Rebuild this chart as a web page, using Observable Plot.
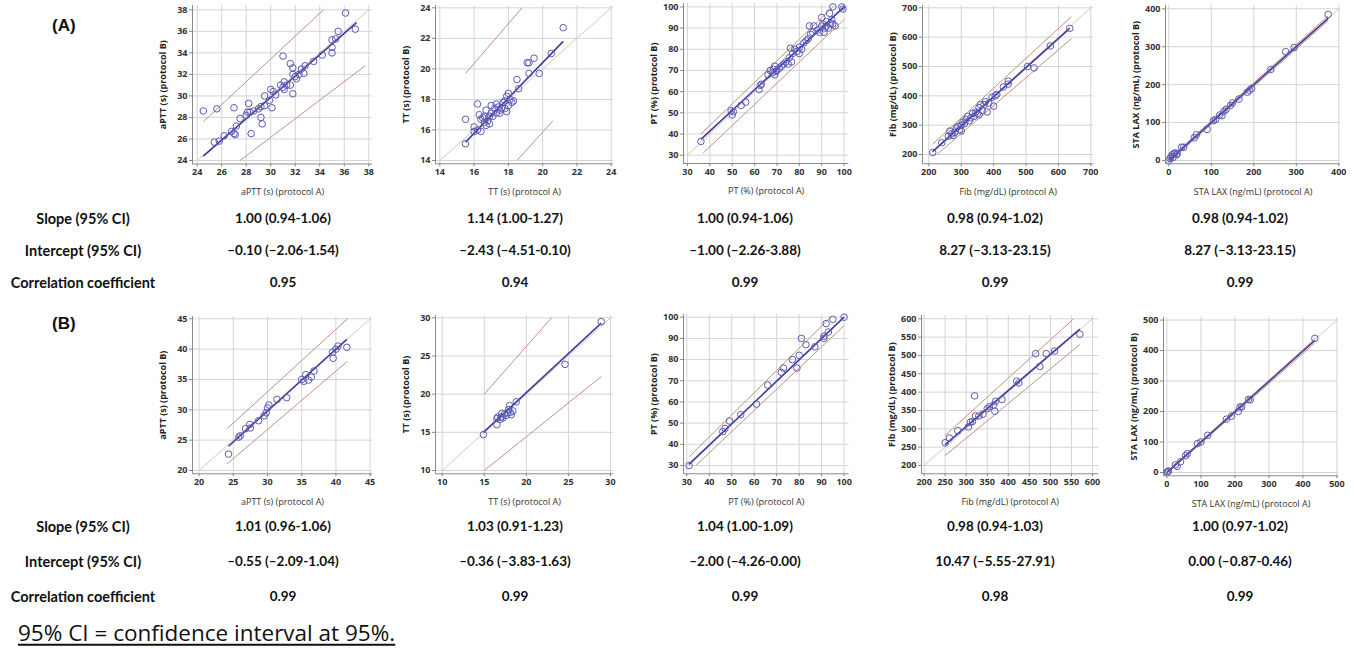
<!DOCTYPE html>
<html><head><meta charset="utf-8">
<script src="https://cdn.jsdelivr.net/npm/d3@7"></script>
<script src="https://cdn.jsdelivr.net/npm/@observablehq/plot@0.6"></script>
<style>
html,body{margin:0;padding:0;background:#fff;}
body{width:1354px;height:648px;position:relative;overflow:hidden;font-family:Lato,"Open Sans",sans-serif;}
.panel{position:absolute;}
.panel g[aria-label="x-axis tick label"] text,.panel g[aria-label="y-axis tick label"] text{font-weight:700;fill:#333;}
.panel g[aria-label="x-axis label"] text{fill:#333;}
.panel g[aria-label="y-axis label"] text{fill:#222;font-weight:700;}
.t{position:absolute;font-weight:700;font-size:13.5px;color:#111;white-space:nowrap;transform:translate(-50%,-50%);line-height:1;}
.lab{font-size:14.5px;}
.tag{position:absolute;font-family:"Liberation Sans",Arial,sans-serif;font-weight:700;font-size:17px;color:#111;transform:translate(0,-50%);line-height:1;}
.foot{position:absolute;left:18px;top:633px;transform:translate(0,-50%);font-family:"Open Sans",sans-serif;font-size:22.5px;color:#111;text-decoration:underline;text-underline-offset:3px;white-space:nowrap;line-height:1;}
</style></head><body>
<script>
// ---------------- DATA ----------------
const rowLabels = ["Slope (95% CI)", "Intercept (95% CI)", "Correlation coefficient"];
const slopeA = ["1.00 (0.94-1.06)", "1.14 (1.00-1.27)", "1.00 (0.94-1.06)", "0.98 (0.94-1.02)", "0.98 (0.94-1.02)"];
const interceptA = ["–0.10 (–2.06-1.54)", "–2.43 (–4.51-0.10)", "–1.00 (–2.26-3.88)", "8.27 (–3.13-23.15)", "8.27 (–3.13-23.15)"];
const corrA = ["0.95", "0.94", "0.99", "0.99", "0.99"];
const slopeB = ["1.01 (0.96-1.06)", "1.03 (0.91-1.23)", "1.04 (1.00-1.09)", "0.98 (0.94-1.03)", "1.00 (0.97-1.02)"];
const interceptB = ["–0.55 (–2.09-1.04)", "–0.36 (–3.83-1.63)", "–2.00 (–4.26-0.00)", "10.47 (–5.55-27.91)", "0.00 (–0.87-0.46)"];
const corrB = ["0.99", "0.99", "0.99", "0.98", "0.99"];
const footnote = "95% CI = confidence interval at 95%.";

const xLabels = ["aPTT (s) (protocol A)", "TT (s) (protocol A)", "PT (%) (protocol A)", "Fib (mg/dL) (protocol A)", "STA LAX (ng/mL) (protocol A)"];
const yLabels = ["aPTT (s) (protocol B)", "TT (s) (protocol B)", "PT (%) (protocol B)", "Fib (mg/dL) (protocol B)", "STA LAX (ng/mL) (protocol B)"];

const ticksApttA = [24, 26, 28, 30, 32, 34, 36, 38];
const ticksTtA = [14, 16, 18, 20, 22, 24];
const ticksPtA = [30, 40, 50, 60, 70, 80, 90, 100];
const ticksFibA = [200, 300, 400, 500, 600, 700];
const ticksLaxA = [0, 100, 200, 300, 400];
const ticksApttB = [20, 25, 30, 35, 40, 45];
const ticksTtB = [10, 15, 20, 25, 30];
const ticksPtB = [30, 40, 50, 60, 70, 80, 90, 100];
const ticksFibB = [200, 250, 300, 350, 400, 450, 500, 550, 600];
const ticksLaxB = [0, 100, 200, 300, 400, 500];

const apttA = [[24.5,28.6],[25.6,28.8],[25.4,25.7],[25.8,25.8],[26.2,26.3],[26.8,26.7],[27.0,26.5],[27.1,26.4],[27.2,27.2],[27.0,28.9],[27.5,27.9],[28.0,28.2],[28.2,29.3],[28.1,28.5],[28.3,28.5],[28.4,26.5],[28.6,28.6],[29.0,28.8],[29.2,28.0],[29.3,27.4],[29.2,29.0],[29.5,29.1],[29.5,30.0],[29.9,29.6],[30.0,30.6],[30.1,28.9],[30.2,30.4],[30.4,30.1],[30.8,31.0],[31.0,30.8],[31.0,33.7],[31.1,31.3],[31.1,30.6],[31.3,31.0],[31.6,33.0],[31.6,31.0],[31.8,32.0],[31.8,32.6],[31.8,30.2],[32.0,31.8],[32.1,31.6],[32.3,32.0],[32.5,32.5],[32.7,32.1],[32.8,32.8],[33.5,33.2],[34.2,33.8],[35.0,34.0],[35.0,34.5],[35.0,35.2],[35.3,35.3],[35.5,36.0],[36.1,37.7],[36.9,36.2]];
const ttA = [[15.5,16.7],[15.5,15.1],[16.0,16.2],[16.0,15.9],[16.2,17.7],[16.2,16.0],[16.3,17.0],[16.4,15.9],[16.4,16.7],[16.5,16.8],[16.6,16.5],[16.6,16.9],[16.7,17.3],[16.7,16.3],[16.8,16.6],[16.9,16.9],[16.9,16.4],[17.0,17.6],[17.0,17.1],[17.1,16.9],[17.2,17.4],[17.3,17.7],[17.3,17.1],[17.4,17.5],[17.5,17.3],[17.5,17.1],[17.6,17.4],[17.7,17.8],[17.8,17.9],[17.8,17.4],[17.9,17.2],[17.9,18.2],[18.0,18.4],[18.0,17.6],[18.1,18.0],[18.2,17.8],[18.3,17.9],[18.5,19.3],[18.6,18.7],[19.1,20.4],[19.2,20.4],[19.2,19.7],[19.5,20.7],[19.8,19.7],[20.5,21.0],[21.2,22.7]];
const ptA = [[36,36.5],[49.5,51],[50,49],[50.5,50.5],[54,53.5],[56,55],[62,61],[62.5,63],[63,63.5],[66,68],[67,70],[68,69],[68.5,70.5],[69,72],[69,68],[69.5,69.5],[70,70],[71,71],[72,72],[73,73],[74,74],[75,73],[75.5,76],[76,80.5],[76.5,74],[77,78],[78,80],[79,79],[80,81],[80,78],[81,80],[82,83],[83,84],[84,85],[84.5,91],[85,87],[86,88],[86.5,91],[88,89],[89,88],[90,91],[90,95],[90.5,92],[91,88],[91.5,90],[92,93],[92,91],[93,90],[93.5,97],[94,92],[94.5,94],[95,100],[95,92],[96,91],[99,100],[99.5,99]];
const fibA = [[212,207],[240,240],[260,262],[265,280],[270,270],[275,265],[280,275],[285,290],[290,295],[295,285],[300,300],[300,280],[305,310],[310,305],[315,320],[320,330],[325,315],[330,325],[335,340],[340,330],[345,345],[350,340],[355,360],[355,335],[360,370],[365,350],[370,370],[375,380],[380,345],[385,375],[395,395],[400,365],[405,400],[410,405],[430,430],[445,450],[445,440],[505,500],[525,495],[575,570],[635,630]];
const laxA = [[0,0],[3,5],[5,10],[8,15],[10,8],[12,18],[15,20],[18,15],[20,18],[30,35],[35,35],[60,60],[65,68],[90,82],[105,105],[110,108],[120,120],[125,118],[130,130],[135,135],[145,145],[150,152],[165,162],[185,180],[190,185],[195,190],[240,240],[275,287],[295,298],[375,385]];
const apttB = [[24.3,22.7],[25.8,25.5],[26.0,25.7],[26.8,26.9],[27.4,27.6],[27.5,27.0],[28.7,28.2],[29.5,29.0],[29.8,29.5],[30.0,30.3],[30.2,30.8],[31.4,31.7],[32.8,32.0],[35.0,35.0],[35.3,34.7],[35.6,35.8],[36.0,34.9],[36.4,35.4],[36.8,36.4],[39.5,39.5],[39.6,38.5],[40.0,40.0],[40.3,40.5],[41.6,40.3]];
const ttB = [[14.9,14.7],[16.5,16.0],[16.5,16.8],[16.6,17.0],[16.9,16.7],[17.0,17.0],[17.1,17.5],[17.2,16.9],[17.4,17.4],[17.6,17.2],[17.8,17.6],[17.9,18.0],[18.0,18.5],[18.1,17.6],[18.2,17.3],[18.4,17.8],[18.8,19.0],[24.6,23.9],[28.9,29.5]];
const ptB = [[31,30],[46,46],[47,47.5],[49,51],[54,54],[61,59],[66,68],[72,74],[73,76],[77,80],[79,76],[80,82],[81,90],[83,87],[87,86],[91,90],[91,91],[92,97],[93,93],[95,99],[100,100]];
const fibB = [[250,262],[260,275],[280,295],[305,305],[310,318],[315,320],[320,390],[322,335],[330,335],[340,340],[350,355],[355,360],[365,365],[368,348],[370,375],[385,380],[420,430],[425,425],[465,505],[475,470],[490,505],[510,512],[570,558]];
const laxB = [[0,0],[2,3],[5,5],[25,25],[30,20],[40,35],[55,55],[60,62],[90,95],[100,100],[120,122],[175,175],[190,185],[210,200],[215,215],[220,215],[240,240],[245,238],[435,440]];

// lines: [kind, x1, y1, x2, y2]
const apttA_lines = [["identity",24,24,38,38],["upper",24.5,27.6,34.3,38],["lower",27.5,24.0,37.7,32.8],["regression",24.5,24.4,37,36.8]];
const ttA_lines = [["identity",14,14,24,24],["upper",15.5,19.7,18.8,24],["lower",18.5,14,20.6,16.6],["regression",15.5,15.2,21.2,21.8]];
const ptA_lines = [["identity",30,30,100,100],["upper",36,40,95,100],["lower",37,31,100,94],["regression",36,37.5,100,100]];
const fibA_lines = [["identity",200,200,700,700],["upper",212,235,640,670],["lower",225,200,640,595],["regression",212,210,635,630]];
const laxA_lines = [["identity",0,0,400,400],["upper",0,4,375,381],["lower",0,-4,375,369],["regression",0,0,375,375]];
const apttB_lines = [["identity",20,20,45,45],["upper",24.1,26.9,41.7,45],["lower",24.1,21.1,41.7,38.0],["regression",24.3,24.0,41.6,41.6]];
const ttB_lines = [["identity",10,10,30,30],["upper",15,20,23,30],["lower",15,10,28.9,22.3],["regression",14.9,15.0,28.9,29.3]];
const ptB_lines = [["identity",30,30,100,100],["upper",31,34,94,100],["lower",34,30,100,96],["regression",31,30.5,100,100]];
const fibB_lines = [["identity",200,200,600,600],["upper",250,282,555,600],["lower",250,227,570,530],["regression",250,257,570,572]];
const laxB_lines = [["identity",0,0,500,500],["upper",0,3,435,438],["lower",0,-3,435,425],["regression",0,0,435,433]];

// ---------------- LAYOUT ----------------
const panels = [
  {pts: apttA, lines: apttA_lines, ticks: ticksApttA, col: 0, g: {fl:192, fr:372, ft:5, fb:163.5, xp:[196.7,368.3], yp:[160,9.3]}},
  {pts: ttA, lines: ttA_lines, ticks: ticksTtA, col: 1, g: {fl:435, fr:613, ft:5, fb:163.3, xp:[439.3,610.7], yp:[160,7.3]}},
  {pts: ptA, lines: ptA_lines, ticks: ticksPtA, col: 2, g: {fl:682.7, fr:848, ft:3.3, fb:163.3, xp:[686.7,843.3], yp:[155,6.7]}},
  {pts: fibA, lines: fibA_lines, ticks: ticksFibA, col: 3, g: {fl:921.7, fr:1093, ft:5, fb:163.3, xp:[928,1090], yp:[154,7.3]}},
  {pts: laxA, lines: laxA_lines, ticks: ticksLaxA, col: 4, g: {fl:1165, fr:1340, ft:5, fb:163.3, xp:[1168.3,1338.3], yp:[160,8.3]}},
  {pts: apttB, lines: apttB_lines, ticks: ticksApttB, col: 0, g: {fl:191.7, fr:371.7, ft:316, fb:473.3, xp:[198.3,369.3], yp:[470,318.3]}},
  {pts: ttB, lines: ttB_lines, ticks: ticksTtB, col: 1, g: {fl:435, fr:613.3, ft:315, fb:473.3, xp:[441.7,610], yp:[470,317.3]}},
  {pts: ptB, lines: ptB_lines, ticks: ticksPtB, col: 2, g: {fl:682.7, fr:848.3, ft:314, fb:473.3, xp:[686,843.3], yp:[465,316.7]}},
  {pts: fibB, lines: fibB_lines, ticks: ticksFibB, col: 3, g: {fl:920.7, fr:1098, ft:315, fb:473.3, xp:[923.3,1091.7], yp:[465,318.3]}},
  {pts: laxB, lines: laxB_lines, ticks: ticksLaxB, col: 4, g: {fl:1163.3, fr:1338.3, ft:316.7, fb:475, xp:[1166.7,1336.7], yp:[471.7,319.3]}}
];
const lineStyle = {
  identity: {stroke: "#e6c2b8", strokeWidth: 1},
  upper: {stroke: "#c98f80", strokeWidth: 1},
  lower: {stroke: "#c98f80", strokeWidth: 1},
  regression: {stroke: "#3c3c9e", strokeWidth: 1.6}
};
const colCenters = [283, 515, 745, 995, 1240];
const labelCenterX = 83;
const rowYA = [219, 251, 283];
const rowYB = [527, 562, 597];

// ---------------- DRAW ----------------
const ML = 40, MR = 14, MT = 8, MB = 36;
for (const p of panels) {
  const g = p.g, t = p.ticks;
  const tmin = t[0], tmax = t[t.length - 1];
  const kx = (g.xp[1] - g.xp[0]) / (tmax - tmin);
  const ky = (g.yp[0] - g.yp[1]) / (tmax - tmin);
  const xd = [tmin - (g.xp[0] - g.fl) / kx, tmax + (g.fr - g.xp[1]) / kx];
  const yd = [tmin - (g.fb - g.yp[0]) / ky, tmax + (g.yp[1] - g.ft) / ky];
  const marks = [
    Plot.gridX(t, {stroke: "#d4d4d4", strokeOpacity: 1}),
    Plot.gridY(t, {stroke: "#d4d4d4", strokeOpacity: 1})
  ];
  for (const kind of ["identity", "upper", "lower", "regression"]) {
    marks.push(Plot.link(p.lines.filter(d => d[0] === kind), {
      x1: d => d[1], y1: d => d[2], x2: d => d[3], y2: d => d[4], ...lineStyle[kind]
    }));
  }
  marks.push(
    Plot.dot(p.pts, {x: d => d[0], y: d => d[1], r: 3.3, stroke: "#5a5ab4", strokeWidth: 1, fill: "none"}),
    Plot.ruleX([xd[0]], {stroke: "#8a8a8a"}),
    Plot.ruleY([yd[0]], {stroke: "#8a8a8a"}),
    Plot.axisX(t, {tickSize: 3, tickPadding: 2, label: xLabels[p.col], labelAnchor: "center", labelArrow: "none", labelOffset: 31, fontSize: 9, stroke: "#888"}),
    Plot.axisY(t, {tickSize: 3, tickPadding: 2, label: yLabels[p.col], labelAnchor: "center", labelArrow: "none", labelOffset: 33, fontSize: 9, stroke: "#888"})
  );
  const svg = Plot.plot({
    width: g.fr - g.fl + ML + MR,
    height: g.fb - g.ft + MT + MB,
    marginLeft: ML, marginRight: MR, marginTop: MT, marginBottom: MB,
    x: {domain: xd}, y: {domain: yd},
    style: {fontFamily: "'Open Sans', Lato, sans-serif", fontSize: "9px", background: "transparent", overflow: "visible"},
    marks
  });
  svg.classList.add("panel");
  svg.style.position = "absolute";
  svg.style.left = (g.fl - ML) + "px";
  svg.style.top = (g.ft - MT) + "px";
  document.body.appendChild(svg);
}

function addText(txt, x, y, cls) {
  const d = document.createElement("div");
  d.className = cls;
  d.textContent = txt;
  d.style.left = x + "px";
  d.style.top = y + "px";
  document.body.appendChild(d);
}
const tableA = [slopeA, interceptA, corrA];
const tableB = [slopeB, interceptB, corrB];
rowLabels.forEach((lab, i) => {
  addText(lab, labelCenterX, rowYA[i], "t lab");
  addText(lab, labelCenterX, rowYB[i], "t lab");
  tableA[i].forEach((v, j) => addText(v, colCenters[j], rowYA[i], "t"));
  tableB[i].forEach((v, j) => addText(v, colCenters[j], rowYB[i], "t"));
});
addText("(A)", 52, 25, "tag");
addText("(B)", 52, 323, "tag");
addText(footnote, 18, 633, "foot");
</script>
</body></html>
